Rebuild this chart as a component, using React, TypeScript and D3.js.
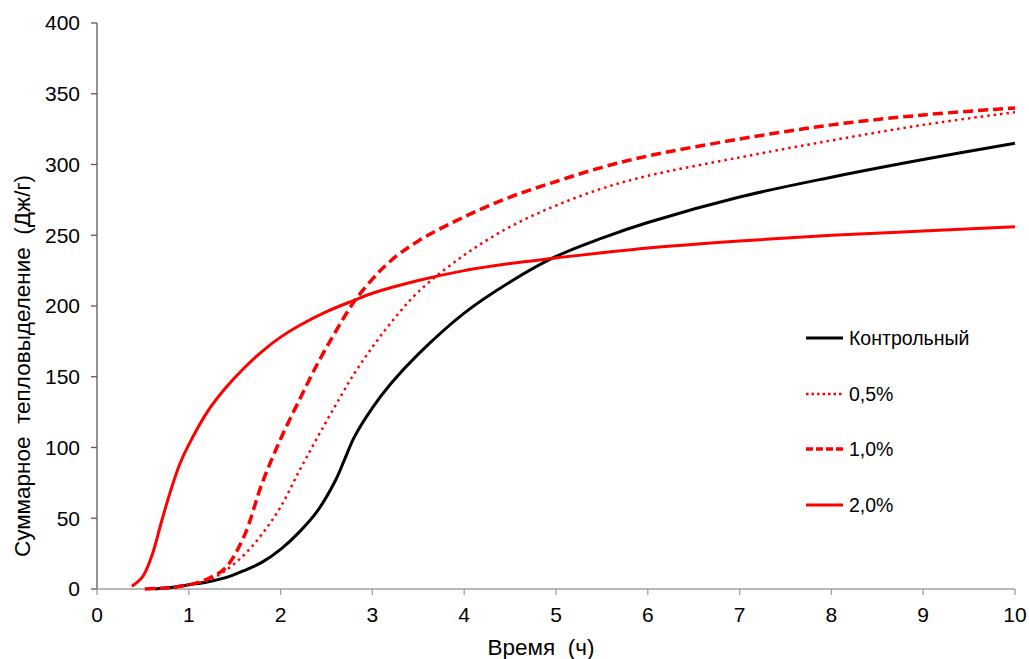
import React from "react";
import * as d3 from "d3";

const controlX = [0.63, 0.8, 1.0, 1.2, 1.4, 1.6, 1.8, 2.0, 2.2, 2.4, 2.6, 2.7, 2.8, 3.0, 3.2, 3.5, 4.0, 4.5, 5.0, 5.5, 6.0, 7.0, 8.0, 9.0, 10.0];
const controlY = [0, 1, 3, 5, 8, 13, 19, 28, 40, 55, 77, 92, 107, 128, 145, 166, 195, 217, 235, 248, 259, 277, 291, 303.5, 315];

const p05X = [0.55, 0.8, 1.0, 1.2, 1.4, 1.6, 1.8, 2.0, 2.2, 2.4, 2.6, 2.8, 3.0, 3.2, 3.5, 4.0, 4.5, 5.0, 5.5, 6.0, 7.0, 8.0, 9.0, 10.0];
const p05Y = [0, 1, 3, 6, 13, 24, 39, 58, 83, 107, 130, 152, 171, 188, 210, 236, 256, 271, 283, 292, 305, 317, 328, 337];

const p10X = [0.52, 0.8, 1.0, 1.2, 1.4, 1.6, 1.8, 2.0, 2.2, 2.4, 2.6, 2.8, 3.0, 3.2, 3.5, 4.0, 4.5, 5.0, 5.5, 6.0, 7.0, 8.0, 9.0, 10.0];
const p10Y = [0, 1, 3, 7, 15, 37, 75, 106, 133, 159, 182, 203, 219, 232, 246, 263, 277, 288, 298, 306, 318, 328, 335, 340];

const p20X = [0.38, 0.5, 0.6, 0.7, 0.8, 0.9, 1.0, 1.2, 1.4, 1.6, 1.8, 2.0, 2.2, 2.5, 2.8, 3.0, 3.5, 4.0, 4.5, 5.0, 6.0, 7.0, 8.0, 9.0, 10.0];
const p20Y = [2, 9, 24, 47, 69, 88, 102, 125, 142, 156, 168, 178, 186, 196, 204, 209, 218, 225, 230, 234, 241, 246, 250, 253, 256];

const xTicks = [0, 1, 2, 3, 4, 5, 6, 7, 8, 9, 10];
const yTicks = [0, 50, 100, 150, 200, 250, 300, 350, 400];
const seriesNames = ["Контрольный", "0,5%", "1,0%", "2,0%"];

const FONT = "'Liberation Sans', Arial, sans-serif";

export default function App() {
  const x = d3.scaleLinear().domain([0, 10]).range([97, 1015]);
  const y = d3.scaleLinear().domain([0, 400]).range([589, 23]);

  const mk = (xs: number[], ys: number[]) =>
    d3
      .line<number>()
      .x((_, i) => x(xs[i]))
      .y((d) => y(d))
      .curve(d3.curveCatmullRom.alpha(0.5))(ys) as string;

  const series = [
    { name: seriesNames[0], d: mk(controlX, controlY), color: "#000000", dash: undefined, legDash: undefined, w: 3 },
    { name: seriesNames[1], d: mk(p05X, p05Y), color: "#ff0000", dash: "2.5,4", legDash: "2.5,3", w: 2.5 },
    { name: seriesNames[2], d: mk(p10X, p10Y), color: "#ff0000", dash: "10,5", legDash: "7,3", w: 3.5 },
    { name: seriesNames[3], d: mk(p20X, p20Y), color: "#ff0000", dash: undefined, legDash: undefined, w: 3 },
  ];

  const legendY = [338, 394, 449, 505];

  return (
    <svg
      width={1029}
      height={659}
      style={{ position: "absolute", left: 0, top: 0, background: "#fff" }}
      fontFamily={FONT}
    >
      <line x1={97} x2={97} y1={y(400)} y2={y(0)} stroke="#595959" strokeWidth={1.3} />
      {yTicks.map((t) => (
        <g key={"y" + t}>
          <line x1={91} x2={97} y1={y(t)} y2={y(t)} stroke="#595959" strokeWidth={1.3} />
          <text x={80} y={y(t)} dy="0.35em" textAnchor="end" fontSize={21} fill="#000">
            {t}
          </text>
        </g>
      ))}
      <line x1={x(0)} x2={x(10)} y1={589} y2={589} stroke="#a0a0a0" strokeWidth={1.3} />
      {xTicks.map((t) => (
        <g key={"x" + t}>
          <line x1={x(t)} x2={x(t)} y1={589} y2={595} stroke="#a0a0a0" strokeWidth={1.3} />
          <text x={x(t)} y={622} textAnchor="middle" fontSize={21} fill="#000">
            {t}
          </text>
        </g>
      ))}
      <text x={541} y={655} textAnchor="middle" fontSize={22.5} fill="#000" style={{ whiteSpace: "pre" }}>
        {"Время  (ч)"}
      </text>
      <text
        transform="translate(30,366) rotate(-90)"
        textAnchor="middle"
        fontSize={22.5}
        fill="#000"
        style={{ whiteSpace: "pre" }}
      >
        {"Суммарное  тепловыделение  (Дж/г)"}
      </text>

      {series.map((s) => (
        <path
          key={s.name}
          d={s.d}
          fill="none"
          stroke={s.color}
          strokeWidth={s.w}
          strokeDasharray={s.dash}
        />
      ))}

      {series.map((s, i) => (
        <g key={"leg" + i}>
          <line
            x1={806}
            x2={843}
            y1={legendY[i]}
            y2={legendY[i]}
            stroke={s.color}
            strokeWidth={s.w}
            strokeDasharray={s.legDash}
          />
          <text x={849} y={legendY[i]} dy="0.35em" fontSize={19.5} fill="#000">
            {s.name}
          </text>
        </g>
      ))}
    </svg>
  );
}
